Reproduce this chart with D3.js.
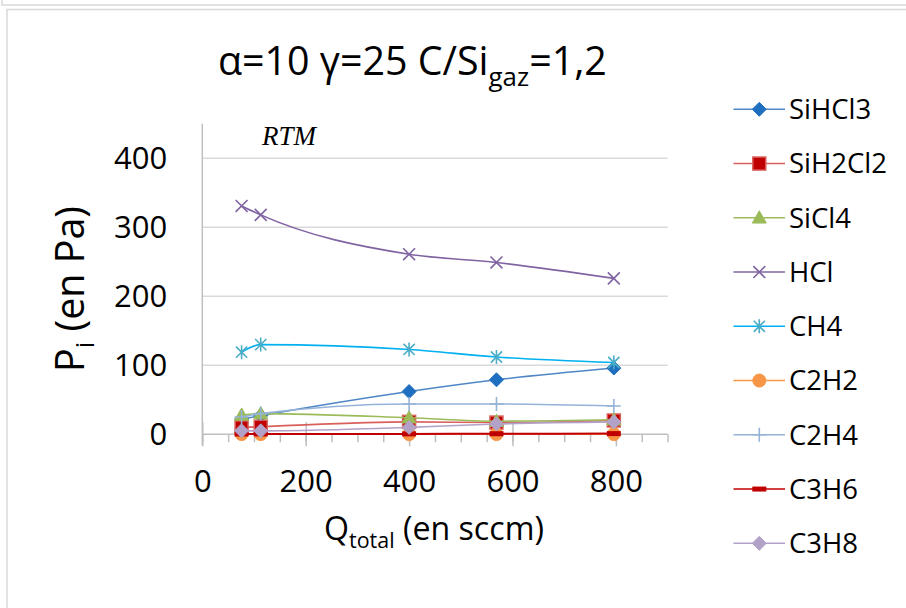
<!DOCTYPE html>
<html><head><meta charset="utf-8">
<script src="https://cdn.jsdelivr.net/npm/d3@7"></script>
<style>body{margin:0;background:#fff} svg{display:block}</style>
</head><body>
<svg id="c" width="906" height="608"></svg>
<script>
// ---- data ----
const qTotal   = [76, 113, 400, 569, 796];
const seriesNames = ["SiHCl3","SiH2Cl2","SiCl4","HCl","CH4","C2H2","C2H4","C3H6","C3H8"];
const SiHCl3   = [22, 27, 62, 79, 96];
const SiH2Cl2  = [10, 11, 18, 17, 20];
const SiCl4    = [28, 30, 24, 19, 21];
const HCl      = [331, 318, 261, 249, 226];
const CH4      = [119, 130, 123, 112, 104];
const C2H2     = [0.3, 0.3, 0.3, 0.3, 0.3];
const C2H4     = [25, 30, 44, 44, 41];
const C3H6     = [0.4, 0.5, 0.6, 0.8, 1];
const C3H8     = [5, 5, 10, 15, 18];
const xTicks = [0, 200, 400, 600, 800];
const xMinorTicks = d3.range(0, 901, 50);
const yTicks = [0, 100, 200, 300, 400];

const seriesValues = [SiHCl3, SiH2Cl2, SiCl4, HCl, CH4, C2H2, C2H4, C3H6, C3H8];
// styles
const lineColors   = ["#4f86c6","#d9605c","#9bbb59","#8064a2","#00b0f0","#f79646","#95b3d7","#c00000","#b3a2c7"];
const markerFills  = ["#1f6fc0","#c00000","#9bbb59",null,null,"#f79646",null,"#c00000","#b3a2c7"];
const markerStrokes= ["#1f6fc0","#d9605c","#9bbb59","#8064a2","#4bacc6","#f79646","#95b3d7","#c00000","#b3a2c7"];
const markerTypes  = ["diamond","square","triangle","x","asterisk","circle","plus","dash","diamond"];

const FONT = "'Open Sans', 'Noto Sans', sans-serif";
const svg = d3.select("#c");

// scale a text element (and its tspans) so its width matches target
function fitWidth(t, target) {
  const w = t.node().getBBox().width;
  const k = target / w;
  const scaleAttr = (sel, a) => { const v = sel.attr(a); if (v != null) sel.attr(a, parseFloat(v) * k); };
  scaleAttr(t, "font-size");
  t.selectAll("tspan").each(function () { const s = d3.select(this); scaleAttr(s, "font-size"); scaleAttr(s, "dy"); });
}

// frame
const frame = svg.append("g").attr("stroke","#d9d9d9").attr("stroke-width",1.5).attr("fill","none");
frame.append("path").attr("d","M2,0 V5 H906");
frame.append("path").attr("d","M7,608 V9.5 H906");

const x = d3.scaleLinear().domain([0, 900]).range([202.3, 667.6]);
const y = d3.scaleLinear().domain([0, 450]).range([434.3, 123.8]);

// gridlines
svg.append("g").selectAll("line").data(yTicks.filter(d => d > 0)).join("line")
  .attr("x1", x(0)).attr("x2", x(900))
  .attr("y1", d => y(d)).attr("y2", d => y(d))
  .attr("stroke", "#d9d9d9").attr("stroke-width", 1.5);

// y axis
const yAxis = svg.append("g").attr("transform", `translate(${x(0)},0)`)
  .call(d3.axisLeft(y).tickValues(yTicks).tickSize(0).tickPadding(35));
yAxis.select(".domain").remove();
yAxis.selectAll("text").attr("font-family", FONT).attr("font-size", 31).attr("fill", "#000");
svg.append("line").attr("x1", x(0)).attr("x2", x(0)).attr("y1", y(450)).attr("y2", y(0) + 11)
  .attr("stroke", "#bfbfbf").attr("stroke-width", 1.5);

// x axis minor ticks
const xMinor = svg.append("g").attr("transform", `translate(0,${y(0)})`)
  .call(d3.axisBottom(x).tickValues(xMinorTicks).tickSize(8).tickFormat(""));
xMinor.selectAll("line").attr("stroke", "#bfbfbf").attr("stroke-width", 1.5);
xMinor.select(".domain").attr("stroke", "#bfbfbf").attr("stroke-width", 1.5).attr("d", `M${x(0)},0H${x(900)}`);
// x axis major ticks + labels
const xAxis = svg.append("g").attr("transform", `translate(0,${y(0)})`)
  .call(d3.axisBottom(x).tickValues(xTicks).tickSize(12).tickPadding(24));
xAxis.select(".domain").remove();
xAxis.selectAll("line").attr("y1", -12).attr("stroke", "#bfbfbf").attr("stroke-width", 1.5);
xAxis.selectAll("text").attr("font-family", FONT).attr("font-size", 31).attr("fill", "#000");

// marker drawing
function drawMarker(g, type, cx, cy, fill, stroke, s) {
  switch (type) {
    case "diamond":
      g.append("path").attr("d", `M${cx},${cy-s}L${cx+s},${cy}L${cx},${cy+s}L${cx-s},${cy}Z`)
        .attr("fill", fill).attr("stroke", stroke).attr("stroke-width", 1); break;
    case "square":
      g.append("rect").attr("x", cx - s + 0.5).attr("y", cy - s + 0.5).attr("width", 2*s - 1).attr("height", 2*s - 1)
        .attr("fill", fill).attr("stroke", stroke).attr("stroke-width", 1.5); break;
    case "triangle":
      g.append("path").attr("d", `M${cx},${cy-s}L${cx+s},${cy+s*0.75}L${cx-s},${cy+s*0.75}Z`)
        .attr("fill", fill).attr("stroke", stroke).attr("stroke-width", 1); break;
    case "circle":
      g.append("circle").attr("cx", cx).attr("cy", cy).attr("r", s - 0.5)
        .attr("fill", fill).attr("stroke", stroke).attr("stroke-width", 1); break;
    case "x":
      g.append("path").attr("d", `M${cx-s*0.85},${cy-s*0.85}L${cx+s*0.85},${cy+s*0.85}M${cx+s*0.85},${cy-s*0.85}L${cx-s*0.85},${cy+s*0.85}`)
        .attr("stroke", stroke).attr("stroke-width", 1.6).attr("fill", "none"); break;
    case "asterisk":
      g.append("path").attr("d", `M${cx-s*0.8},${cy-s*0.8}L${cx+s*0.8},${cy+s*0.8}M${cx+s*0.8},${cy-s*0.8}L${cx-s*0.8},${cy+s*0.8}M${cx},${cy-s}L${cx},${cy+s}`)
        .attr("stroke", stroke).attr("stroke-width", 1.6).attr("fill", "none"); break;
    case "plus":
      g.append("path").attr("d", `M${cx-s},${cy}L${cx+s},${cy}M${cx},${cy-s}L${cx},${cy+s}`)
        .attr("stroke", stroke).attr("stroke-width", 1.6).attr("fill", "none"); break;
    case "dash":
      g.append("rect").attr("x", cx - s).attr("y", cy - 2.5).attr("width", 2*s).attr("height", 5)
        .attr("fill", fill); break;
  }
}

const line = d3.line().x(d => x(d[0])).y(d => y(d[1])).curve(d3.curveMonotoneX);
const plot = svg.append("g");
seriesNames.forEach((name, i) => {
  const pts = qTotal.map((q, j) => [q, seriesValues[i][j]]);
  const g = plot.append("g");
  g.append("path").datum(pts).attr("d", line).attr("fill", "none")
    .attr("stroke", lineColors[i]).attr("stroke-width", name === "C3H6" ? 2 : 1.6);
  pts.forEach(p => drawMarker(g, markerTypes[i], x(p[0]), y(p[1]), markerFills[i], markerStrokes[i], 7));
});

// legend
const legend = svg.append("g");
seriesNames.forEach((name, i) => {
  const ly = 109.3 + i * 54.25;
  const g = legend.append("g");
  g.append("line").attr("x1", 733.5).attr("x2", 785).attr("y1", ly).attr("y2", ly)
    .attr("stroke", lineColors[i]).attr("stroke-width", 1.6);
  drawMarker(g, markerTypes[i], 759.3, ly, markerFills[i], markerStrokes[i], 7);
  g.append("text").attr("x", 789).attr("y", ly).attr("dy", "0.36em")
    .attr("font-family", FONT).attr("font-size", 27.5).attr("fill", "#000").text(name);
});

// title
const title = svg.append("text").attr("x", 218).attr("y", 75)
  .attr("font-family", FONT).attr("font-size", 41).attr("fill", "#000");
title.append("tspan").text("α=10 γ=25 C/Si");
title.append("tspan").attr("font-size", 27).attr("dy", 11).text("gaz");
title.append("tspan").attr("dy", -11).text("=1,2");
fitWidth(title, 389);

// RTM label
svg.append("text").attr("x", 262).attr("y", 145)
  .attr("font-family", "'Liberation Serif', 'Times New Roman', serif").attr("font-style", "italic")
  .attr("font-size", 27).attr("fill", "#000").text("RTM");

// axis titles
const yt = svg.append("text").attr("transform", "translate(84,289) rotate(-90)").attr("text-anchor", "middle")
  .attr("font-family", FONT).attr("font-size", 29).attr("fill", "#000");
yt.append("tspan").text("P");
yt.append("tspan").attr("font-size", 19).attr("dy", 7).text("i");
yt.append("tspan").attr("dy", -7).text(" (en Pa)");
fitWidth(yt, 166);

const xt = svg.append("text").attr("x", 434).attr("y", 540).attr("text-anchor", "middle")
  .attr("font-family", FONT).attr("font-size", 27).attr("fill", "#000");
xt.append("tspan").text("Q");
xt.append("tspan").attr("font-size", 18).attr("dy", 7).text("total");
xt.append("tspan").attr("dy", -7).text(" (en sccm)");
fitWidth(xt, 220);
</script>
</body></html>
